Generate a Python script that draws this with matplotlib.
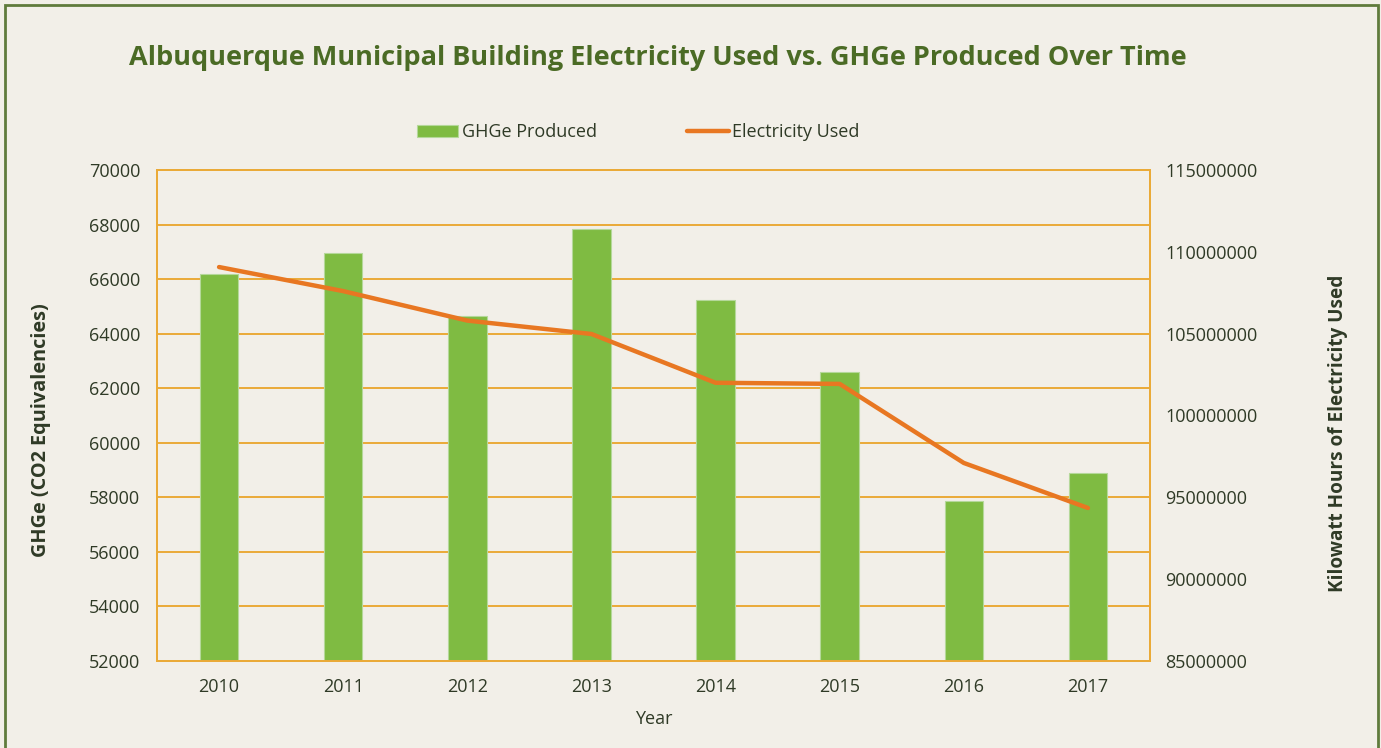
import matplotlib.pyplot as plt
import matplotlib.patches as patches
import numpy as np
import matplotlib

matplotlib.rcParams['font.family'] = ['Open Sans', 'DejaVu Sans']

years = ['2010', '2011', '2012', '2013', '2014', '2015', '2016', '2017']
ghge = [66180, 66950, 64650, 67850, 65230, 62580, 57870, 58900]
electricity = [109070000, 107600000, 105800000, 104980000, 102000000, 101930000, 97100000, 94350000]

bg = '#f2efe8'
gold = '#eaaa38'
txt = '#2f3a26'
title_green = '#4b6b25'

fig = plt.figure(figsize=(13.81, 7.48), dpi=100)
fig.patch.set_facecolor(bg)

# green frame round the whole chart (bottom edge is cut off in the original)
fig.patches.append(patches.Rectangle((5 / 1381, -0.05), 1373 / 1381, 1.05 - 5 / 748,
                                     transform=fig.transFigure, fill=False,
                                     edgecolor='#5f7b3c', linewidth=2))

ax = fig.add_axes([157 / 1381, 1 - 661 / 748, 993 / 1381, 491 / 748])
ax.set_facecolor(bg)
x = np.arange(len(years))

ax.bar(x, ghge, width=0.31, color='#7fbb42', edgecolor='#b5d89a', linewidth=0.8,
       label='GHGe Produced', zorder=3)
ax.set_ylim(52000, 70000)
ax.set_yticks(np.arange(52000, 70001, 2000))
ax.set_xlim(-0.5, len(years) - 0.5)
ax.set_xticks(x)
ax.set_xticklabels(years)
ax.yaxis.grid(True, color=gold, linewidth=1.4, zorder=0)
ax.set_axisbelow(True)
for s in ax.spines.values():
    s.set_color(gold)
    s.set_linewidth(1.4)
ax.tick_params(length=0, labelsize=13, labelcolor=txt, pad=12)
ax.set_xlabel('Year', fontsize=13, color=txt, labelpad=10)
ax.set_ylabel('GHGe (CO2 Equivalencies)', fontsize=14.3, fontweight='bold', color=txt)
ax.yaxis.set_label_coords(-0.107, 0.470)

ax2 = ax.twinx()
ax2.plot(x, electricity, color='#e87722', linewidth=3.2, solid_capstyle='round',
         label='Electricity Used', zorder=4)
ax2.set_ylim(85000000, 115000000)
ax2.set_yticks(np.arange(85000000, 115000001, 5000000))
ax2.set_yticklabels(['%d' % t for t in np.arange(85000000, 115000001, 5000000)])
for s in ax2.spines.values():
    s.set_color(gold)
    s.set_linewidth(1.4)
ax2.tick_params(length=0, labelsize=13, labelcolor=txt, pad=11)
ax2.set_ylabel('Kilowatt Hours of Electricity Used', fontsize=13.7, fontweight='bold', color=txt)
ax2.yaxis.set_label_coords(1.179, 0.464)

fig.text(0.476, 0.922, 'Albuquerque Municipal Building Electricity Used vs. GHGe Produced Over Time',
         ha='center', va='center', fontsize=19.5, fontweight='bold', color=title_green)

h1, l1 = ax.get_legend_handles_labels()
h2, l2 = ax2.get_legend_handles_labels()
fig.legend(h1 + h2, l1 + l2, loc='center', bbox_to_anchor=(0.462, 0.823), ncol=2,
           frameon=False, fontsize=13, labelcolor=txt, columnspacing=5,
           handlelength=2.3, handletextpad=0.2)

plt.savefig('out.png', dpi=100, facecolor=bg)
